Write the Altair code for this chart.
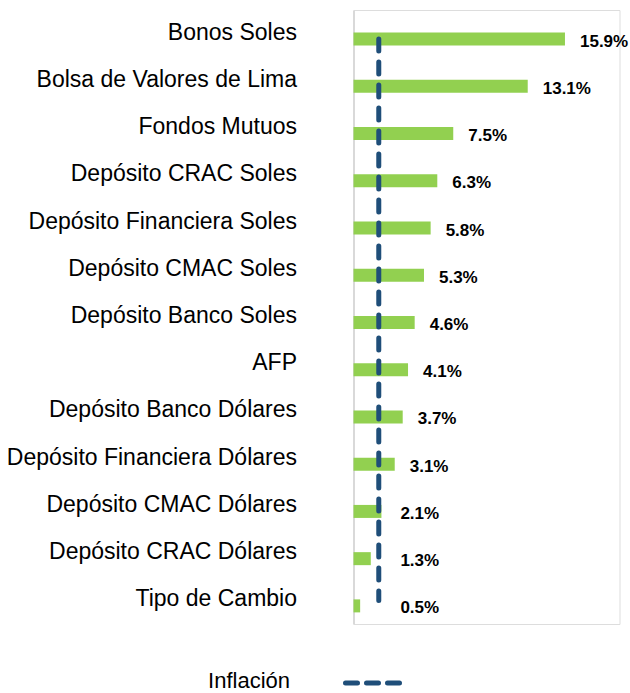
import altair as alt
import pandas as pd

categorias = [
    "Bonos Soles",
    "Bolsa de Valores de Lima",
    "Fondos Mutuos",
    "Depósito CRAC Soles",
    "Depósito Financiera Soles",
    "Depósito CMAC Soles",
    "Depósito Banco Soles",
    "AFP",
    "Depósito Banco Dólares",
    "Depósito Financiera Dólares",
    "Depósito CMAC Dólares",
    "Depósito CRAC Dólares",
    "Tipo de Cambio",
]
rentabilidad = [15.9, 13.1, 7.5, 6.3, 5.8, 5.3, 4.6, 4.1, 3.7, 3.1, 2.1, 1.3, 0.5]
inflacion = 1.9
leyenda = "Inflación"

FONT = "Liberation Sans"
VERDE = "#92D050"
AZUL = "#1F4E79"

df = pd.DataFrame({"cat": categorias, "valor": rentabilidad})
df["etiqueta"] = [f"{v:.1f}%" for v in rentabilidad]
df_inf = pd.DataFrame({"inf": [inflacion], "desde": [categorias[0]], "hasta": [categorias[-1]]})

y_scale = alt.Scale(domain=categorias, paddingInner=0, paddingOuter=0)
x_scale = alt.Scale(domain=[0, 20], nice=False, zero=True)

y_enc = alt.Y(
    "cat:N",
    scale=y_scale,
    title=None,
    axis=alt.Axis(
        ticks=False,
        labelFont=FONT,
        labelFontSize=23,
        labelColor="#000000",
        labelPadding=57,
        labelOffset=-1,
        labelLimit=400,
        domainColor="#D9D9D9",
        domainWidth=2,
        grid=False,
    ),
)

bars = alt.Chart(df).mark_bar(size=13, yOffset=5.5, color=VERDE).encode(
    x=alt.X("valor:Q", scale=x_scale, axis=None),
    y=y_enc,
)

labels = (
    alt.Chart(df)
    .transform_calculate(pos=f"max(datum.valor, {inflacion} + 0.5)")
    .mark_text(
        align="left",
        baseline="middle",
        dx=15,
        dy=8,
        font=FONT,
        fontSize=17,
        fontWeight="bold",
        color="#000000",
    )
    .encode(
        x=alt.X("pos:Q", scale=x_scale, axis=None),
        y=alt.Y("cat:N", scale=y_scale),
        text="etiqueta:N",
    )
)

linea = alt.Chart(df_inf).mark_rule(
    color=AZUL, strokeWidth=5, strokeDash=[12, 11], strokeCap="round", yOffset=5.5
).encode(
    x=alt.X("inf:Q", scale=x_scale, axis=None),
    y=alt.Y("desde:N", scale=y_scale),
    y2="hasta:N",
)

ley_df = pd.DataFrame({"t": [leyenda]})
ley_texto = alt.Chart(ley_df).mark_text(
    align="right", baseline="middle", font=FONT, fontSize=22, color="#000000"
).encode(x=alt.value(-63.5), y=alt.value(671), text="t:N")
ley_linea = alt.Chart(ley_df).mark_rule(
    color=AZUL, strokeWidth=5, strokeDash=[12, 9], strokeCap="round"
).encode(x=alt.value(-8), x2=alt.value(49), y=alt.value(673))

chart = (
    alt.layer(bars, linea, labels, ley_texto, ley_linea)
    .properties(
        width=266,
        height=614,
        autosize=alt.AutoSizeParams(type="none"),
        padding={"left": 353.5, "top": 10, "right": 10.5, "bottom": 69},
    )
    .configure_view(stroke=None)
    .configure(background="#FFFFFF")
)

chart.save("out.html", embed_options={"renderer": "svg", "actions": False})
